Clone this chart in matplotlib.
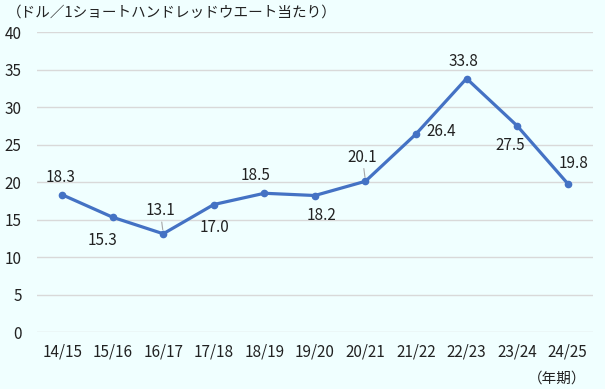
import matplotlib
matplotlib.use("Agg")
import matplotlib.pyplot as plt

plt.rcParams['font.family'] = ['Noto Sans CJK JP', 'DejaVu Sans']

# data
years = ['14/15', '15/16', '16/17', '17/18', '18/19', '19/20',
         '20/21', '21/22', '22/23', '23/24', '24/25']
price = [18.3, 15.3, 13.1, 17.0, 18.5, 18.2, 20.1, 26.4, 33.8, 27.5, 19.8]
labels = ['18.3', '15.3', '13.1', '17.0', '18.5', '18.2',
          '20.1', '26.4', '33.8', '27.5', '19.8']

# label offsets in pixels (dx, dy), leader line flag
offs = [(-2, 17), (-10, -23), (-3, 23), (1, -23), (-9, 18), (7, -20),
        (-3, 24), (25, 3), (-3, 17), (-7, -20), (6, 20)]
leader = [False, False, True, False, False, False, True, False, False, False, False]

bg = '#F0FFFF'
fig = plt.figure(figsize=(6.05, 3.89), dpi=100, facecolor=bg)
ax = fig.add_axes([0.061, 0.1465, 0.919, 0.7712], facecolor=bg)

x = list(range(len(years)))
ax.plot(x, price, color='#4472C4', lw=2.3, marker='o', ms=4.5, zorder=3)

for i, (v, t) in enumerate(zip(price, labels)):
    dx, dy = offs[i]
    kw = {}
    if leader[i]:
        kw['arrowprops'] = dict(arrowstyle='-', color='#A6A6A6', lw=0.8,
                                shrinkA=0, shrinkB=3)
    ax.annotate(t, (i, v), xytext=(dx * 0.72, dy * 0.72), textcoords='offset points',
                ha='center', va='center', fontsize=11, color='#222222', **kw)

ax.set_xlim(-0.5, len(years) - 0.5)
ax.set_ylim(0, 40)
ax.set_yticks(range(0, 41, 5))
ax.set_xticks(x)
ax.set_xticklabels(years)
ax.grid(axis='y', color='#D9D9D9', lw=1)
ax.set_axisbelow(True)
for s in ax.spines.values():
    s.set_visible(False)
ax.tick_params(length=0, labelsize=11, colors='#222222')
ax.tick_params(axis='x', pad=8)
ax.tick_params(axis='y', pad=11)

fig.text(0.012, 0.985, '（ドル／1ショートハンドレッドウエート当たり）', fontsize=10.5,
         color='#222222', ha='left', va='top')
fig.text(0.97, 0.01, '（年期）', fontsize=10.5, color='#222222', ha='right', va='bottom')

fig.savefig('out.png', dpi=100, facecolor=bg)
